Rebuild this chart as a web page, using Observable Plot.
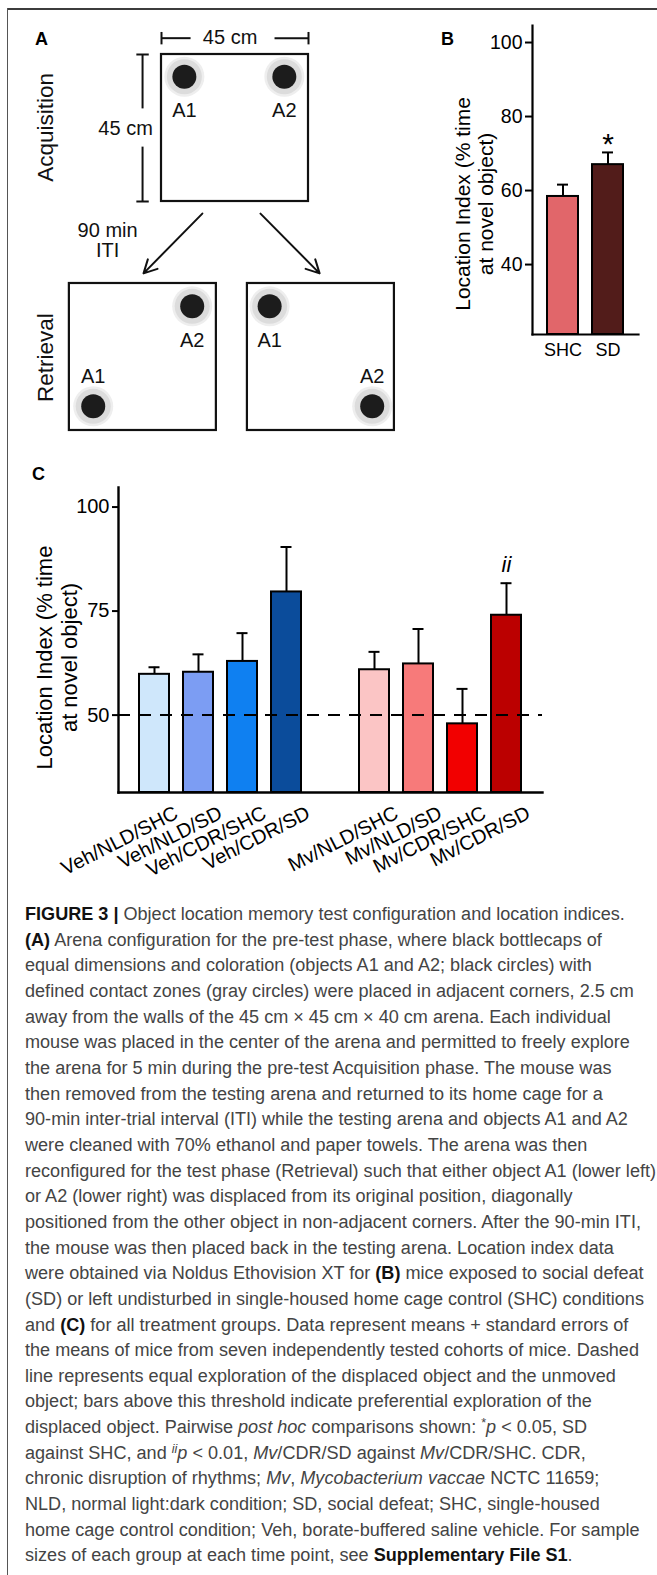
<!DOCTYPE html>
<html>
<head>
<meta charset="utf-8">
<script src="https://cdn.jsdelivr.net/npm/d3@7"></script>
<script src="https://cdn.jsdelivr.net/npm/@observablehq/plot@0.6"></script>
<style>
  html, body { margin: 0; padding: 0; background: #fff; }
  body { width: 657px; height: 1575px; overflow: hidden; font-family: "Liberation Sans", Arial, Helvetica, sans-serif; }
  #page { position: relative; width: 657px; height: 1575px; }
  #frameTop { position: absolute; left: 7px; top: 8px; width: 650px; height: 0; border-top: 2px solid #3c3c3c; }
  #frameLeft { position: absolute; left: 7px; top: 8px; width: 0; height: 1567px; border-left: 1.5px solid #555; }
  .panel { position: absolute; }
  .letter { position: absolute; font-weight: bold; font-size: 18px; color: #000; line-height: 1; }
  #caption { position: absolute; left: 25px; top: 902px; transform-origin: 0 0; color: #444; font-size: 18px; line-height: 25.65px; }
  #caption .ln { white-space: nowrap; }
  #caption b { color: #111; }
  #caption sup { font-size: 0.7em; line-height: 0; vertical-align: 0.45em; }
</style>
</head>
<body>
<div id="page">
  <div id="frameTop"></div>
  <div id="frameLeft"></div>
  <div class="panel" id="panelA" style="left:0;top:0"></div>
  <div class="panel" id="panelB" style="left:430px;top:0"></div>
  <div class="panel" id="panelC" style="left:0;top:440px"></div>
  <div class="letter" style="left:35px;top:30px">A</div>
  <div class="letter" style="left:441px;top:30px">B</div>
  <div class="letter" style="left:32px;top:465px">C</div>
  <div id="caption"></div>
</div>
<script>
const fontFam = '"Liberation Sans", Arial, Helvetica, sans-serif';

// ---------- Panel A data (schematic, in cm) ----------
const arenaPhase = ["Acquisition", "Retrieval", "Retrieval"];
const arenaX = [0, -28.2, 26.3];
const arenaY = [0, 70.1, 70.1];
const arenaSide = 45;
const objName  = ["A1", "A2", "A2", "A1", "A1", "A2"];
const objArena = [0, 0, 1, 1, 2, 2];
const objX     = [7.0, 37.6, 37.6, 7.3, 6.8, 38.2];
const objY     = [6.8, 6.8, 7.0, 37.6, 7.0, 37.6];
const objLabelY = [17.1, 17.1, 17.4, 28.5, 17.4, 28.5];
const dimLines = [
  [0, -5, 8.9, -5], [34.6, -5, 45, -5], [0, -6.9, 0, -3.1], [45, -6.9, 45, -3.1],
  [-5.8, 0, -5.8, 16.5], [-5.8, 28.2, -5.8, 45], [-7.7, 0, -3.9, 0], [-7.7, 45, -3.9, 45]
];
const dimLabels = [[21, -5.1, "45 cm"], [-11, 22.6, "45 cm"]];
const arrowLines = [[12.5, 48.7, -5.5, 67.0], [30.3, 48.7, 48.4, 67.0]];
const itiLabel = [[-16.5, 56.9, "90 min\nITI"]];
const phaseLabels = [[-35.5, 22.3, "Acquisition"], [-35.5, 92.8, "Retrieval"]];

// ---------- Panel B data ----------
const bGroups = ["SHC", "SD"];
const bMeans  = [58.4, 67.0];
const bErrTop = [61.6, 70.3];
const bColors = ["#e1666a", "#521c1a"];
const bTicks  = [40, 60, 80, 100];
const bDomain = [21.1, 104.6];
const bSig    = ["", "*"];

// ---------- Panel C data ----------
const cGroups = ["Veh/NLD/SHC", "Veh/NLD/SD", "Veh/CDR/SHC", "Veh/CDR/SD",
                 "Mv/NLD/SHC", "Mv/NLD/SD", "Mv/CDR/SHC", "Mv/CDR/SD"];
const cMeans  = [59.8, 60.3, 62.9, 79.6, 60.9, 62.3, 47.9, 74.0];
const cErrTop = [61.5, 64.6, 69.7, 90.4, 65.2, 70.7, 56.3, 81.7];
const cColors = ["#cfe7fb", "#7c9df3", "#0f80f1", "#0b4c9b",
                 "#fbc5c5", "#f77a7a", "#f20000", "#bb0000"];
const cSig    = ["", "", "", "", "", "", "", "ii"];
const cTicks  = [50, 75, 100];
const cDomain = [31.4, 104.7];
const cChance = 50;
const cSlots  = ["Veh/NLD/SHC", "Veh/NLD/SD", "Veh/CDR/SHC", "Veh/CDR/SD", "gap",
                 "Mv/NLD/SHC", "Mv/NLD/SD", "Mv/CDR/SHC", "Mv/CDR/SD"];

const yLabel = "Location Index (% time\nat novel object)";

function frameLine(anchor, w) {
  try { return Plot.frame({anchor, stroke: "black", strokeWidth: w}); }
  catch (e) { return null; }
}

// ---------- Panel A ----------
{
  const k = 147 / 45;
  const arenas = arenaPhase.map((p, i) => ({phase: p, x1: arenaX[i], y1: arenaY[i], x2: arenaX[i] + arenaSide, y2: arenaY[i] + arenaSide}));
  const objs = objName.map((n, i) => ({name: n, x: arenaX[objArena[i]] + objX[i], y: arenaY[objArena[i]] + objY[i], ly: arenaY[objArena[i]] + objLabelY[i]}));
  const segs = dimLines.map(d => ({x1: d[0], y1: d[1], x2: d[2], y2: d[3]}));
  const arrs = arrowLines.map(d => ({x1: d[0], y1: d[1], x2: d[2], y2: d[3]}));
  const txt = a => a.map(d => ({x: d[0], y: d[1], t: d[2]}));
  const plotA = Plot.plot({
    width: 430, height: 440, margin: 0,
    style: {fontFamily: fontFam, background: "transparent", color: "black"},
    x: {type: "linear", domain: [-161 / k, 269 / k], range: [0, 430], axis: null},
    y: {type: "linear", domain: [-54 / k, 386 / k], range: [0, 440], axis: null},
    marks: [
      Plot.dot(objs, {x: "x", y: "y", r: 20, fill: "#eeeeee"}),
      Plot.dot(objs, {x: "x", y: "y", r: 17.5, fill: "#dcdcdc"}),
      Plot.dot(objs, {x: "x", y: "y", r: 12, fill: "#1c1c1c"}),
      Plot.rect(arenas, {x1: "x1", x2: "x2", y1: "y1", y2: "y2", fill: "none", stroke: "#111", strokeWidth: 2.2}),
      Plot.text(objs, {x: "x", y: "ly", text: "name", fontSize: 20, fill: "#111"}),
      Plot.link(segs, {x1: "x1", y1: "y1", x2: "x2", y2: "y2", stroke: "#111", strokeWidth: 2}),
      Plot.text(txt(dimLabels), {x: "x", y: "y", text: "t", fontSize: 20, fill: "#111"}),
      Plot.arrow(arrs, {x1: "x1", y1: "y1", x2: "x2", y2: "y2", stroke: "#111", strokeWidth: 2, headLength: 11, headAngle: 55}),
      Plot.text(txt(itiLabel), {x: "x", y: "y", text: "t", fontSize: 20, lineHeight: 1.0, fill: "#111"}),
      Plot.text(txt(phaseLabels), {x: "x", y: "y", text: "t", fontSize: 22.5, rotate: -90, fill: "#111"})
    ]
  });
  document.getElementById("panelA").appendChild(plotA);
}

// ---------- Panel B ----------
{
  const data = bGroups.map((g, i) => ({g, mean: bMeans[i], err: bErrTop[i], color: bColors[i], sig: bSig[i]}));
  const marks = [
    Plot.ruleX(data, {x: "g", y1: "mean", y2: "err", stroke: "black", strokeWidth: 2}),
    Plot.tickY(data, {x: "g", y: "err", stroke: "black", strokeWidth: 2, insetLeft: 10, insetRight: 10}),
    Plot.barY(data, {x: "g", y1: bDomain[0], y2: "mean", fill: "color", stroke: "black", strokeWidth: 2}),
    Plot.text(data, {x: "g", y: "err", text: "sig", fontSize: 30, dy: -8, fill: "black"}),
    Plot.axisY({ticks: bTicks, tickSize: 7, tickPadding: 3, fontSize: 19.5, label: null, strokeWidth: 2}),
    Plot.axisX({tickSize: 0, tickPadding: 9, fontSize: 18, label: null}),
    Plot.text([yLabel], {frameAnchor: "left", text: d => d, textAnchor: "middle", lineAnchor: "middle", rotate: -90, dx: -58.5, dy: 24, fontSize: 21, lineHeight: 1.1, fill: "black"}),
    frameLine("left", 2.2),
    frameLine("bottom", 2.2)
  ].filter(Boolean);
  const plotB = Plot.plot({
    width: 227, height: 380, marginLeft: 102, marginRight: 19, marginTop: 25, marginBottom: 46,
    style: {fontFamily: fontFam, background: "transparent", color: "black"},
    x: {domain: bGroups, padding: 0.31},
    y: {domain: bDomain},
    marks
  });
  document.getElementById("panelB").appendChild(plotB);
}

// ---------- Panel C ----------
{
  const data = cGroups.map((g, i) => ({g, mean: cMeans[i], err: cErrTop[i], color: cColors[i], sig: cSig[i]}));
  const marks = [
    Plot.ruleX(data, {x: "g", y1: "mean", y2: "err", stroke: "black", strokeWidth: 2}),
    Plot.tickY(data, {x: "g", y: "err", stroke: "black", strokeWidth: 2, insetLeft: 9.5, insetRight: 9.5}),
    Plot.barY(data, {x: "g", y1: cDomain[0], y2: "mean", fill: "color", stroke: "black", strokeWidth: 2}),
    Plot.ruleY([cChance], {stroke: "black", strokeWidth: 2, strokeDasharray: "12,9"}),
    Plot.text(data, {x: "g", y: "err", text: "sig", fontSize: 22, fontStyle: "italic", dy: -18, fill: "black"}),
    Plot.axisY({ticks: cTicks, tickSize: 6, tickPadding: 3, fontSize: 20, label: null, strokeWidth: 2}),
    Plot.text(data, {x: "g", text: "g", frameAnchor: "bottom", rotate: -27, textAnchor: "end", dx: 25, dy: 25, fontSize: 20, fill: "black"}),
    Plot.text([yLabel], {frameAnchor: "left", text: d => d, textAnchor: "middle", lineAnchor: "middle", rotate: -90, dx: -62.5, dy: 17.5, fontSize: 22, lineHeight: 1.14, fill: "black"}),
    frameLine("left", 2.4),
    frameLine("bottom", 2.4)
  ].filter(Boolean);
  const plotC = Plot.plot({
    width: 657, height: 440, marginLeft: 118, marginRight: 115, marginTop: 47, marginBottom: 88,
    style: {fontFamily: fontFam, background: "transparent", color: "black"},
    x: {domain: cSlots, paddingInner: 0.326, paddingOuter: 0.427, axis: null},
    y: {domain: cDomain},
    marks
  });
  document.getElementById("panelC").appendChild(plotC);
}

// ---------- Caption ----------
const captionLines = [
  '<b>FIGURE 3 |</b> Object location memory test configuration and location indices.',
  '<b>(A)</b> Arena configuration for the pre-test phase, where black bottlecaps of',
  'equal dimensions and coloration (objects A1 and A2; black circles) with',
  'defined contact zones (gray circles) were placed in adjacent corners, 2.5 cm',
  'away from the walls of the 45 cm × 45 cm × 40 cm arena. Each individual',
  'mouse was placed in the center of the arena and permitted to freely explore',
  'the arena for 5 min during the pre-test Acquisition phase. The mouse was',
  'then removed from the testing arena and returned to its home cage for a',
  '90-min inter-trial interval (ITI) while the testing arena and objects A1 and A2',
  'were cleaned with 70% ethanol and paper towels. The arena was then',
  'reconfigured for the test phase (Retrieval) such that either object A1 (lower left)',
  'or A2 (lower right) was displaced from its original position, diagonally',
  'positioned from the other object in non-adjacent corners. After the 90-min ITI,',
  'the mouse was then placed back in the testing arena. Location index data',
  'were obtained via Noldus Ethovision XT for <b>(B)</b> mice exposed to social defeat',
  '(SD) or left undisturbed in single-housed home cage control (SHC) conditions',
  'and <b>(C)</b> for all treatment groups. Data represent means + standard errors of',
  'the means of mice from seven independently tested cohorts of mice. Dashed',
  'line represents equal exploration of the displaced object and the unmoved',
  'object; bars above this threshold indicate preferential exploration of the',
  'displaced object. Pairwise <i>post hoc</i> comparisons shown: <sup>*</sup><i>p</i> &lt; 0.05, SD',
  'against SHC, and <sup><i>ii</i></sup><i>p</i> &lt; 0.01, <i>Mv</i>/CDR/SD against <i>Mv</i>/CDR/SHC. CDR,',
  'chronic disruption of rhythms; <i>Mv</i>, <i>Mycobacterium vaccae</i> NCTC 11659;',
  'NLD, normal light:dark condition; SD, social defeat; SHC, single-housed',
  'home cage control condition; Veh, borate-buffered saline vehicle. For sample',
  'sizes of each group at each time point, see <b>Supplementary File S1</b>.'
];
{
  const cap = document.getElementById("caption");
  cap.innerHTML = captionLines.map(l => '<div class="ln"><span>' + l + '</span></div>').join("");
  const spans = cap.querySelectorAll(".ln span");
  const w = spans[10].getBoundingClientRect().width;
  const s = 631 / w;
  cap.style.transform = "scaleX(" + s + ")";
}
</script>
</body>
</html>
